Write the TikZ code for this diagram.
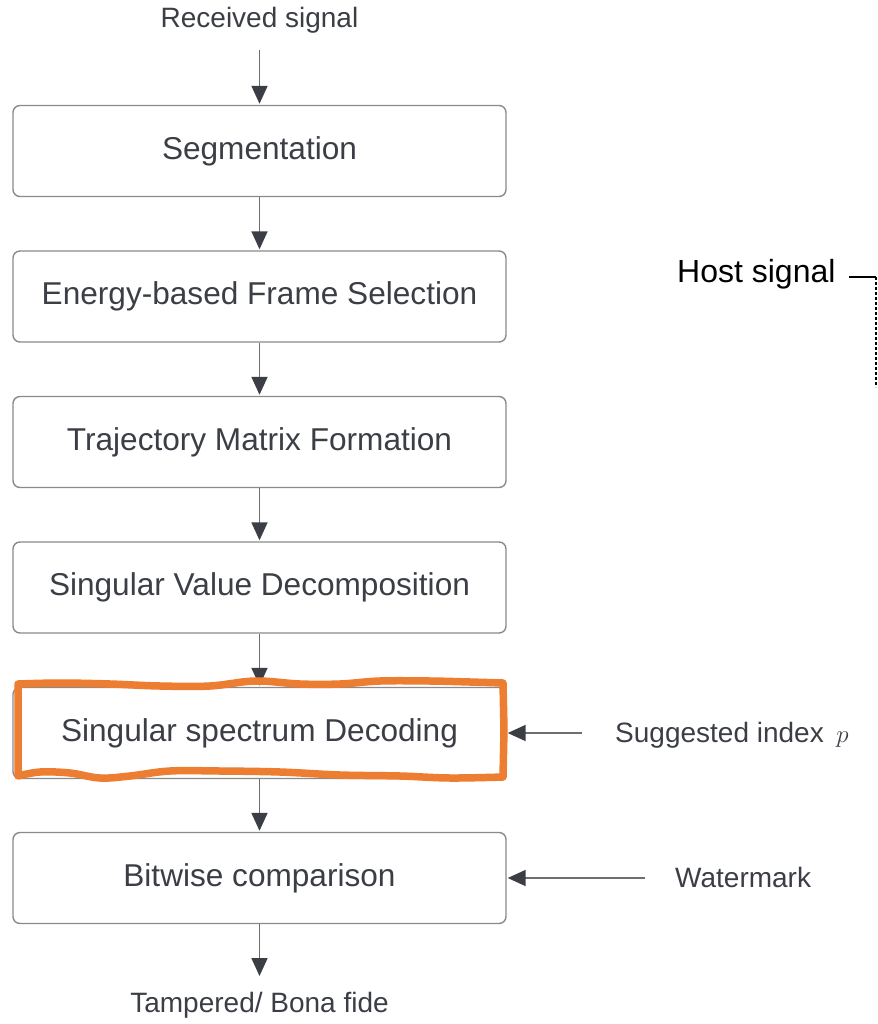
\documentclass[tikz,border=0pt]{standalone}
\usepackage{fontspec}
\setmainfont{Liberation Sans}
\usetikzlibrary{arrows.meta}
\definecolor{txt}{HTML}{3B3E45}
\definecolor{edge}{HTML}{8A8A8A}
\definecolor{arr}{HTML}{6E6E6E}
\definecolor{hl}{HTML}{ED7D31}
\tikzset{
  stage/.style={draw=edge, line width=1.4pt, rounded corners=7pt, minimum width=493pt, minimum height=91pt, text=txt, font=\fontsize{31.6}{37}\selectfont, inner sep=0pt},
  lbl/.style={text=txt, font=\fontsize{28}{33}\selectfont, inner sep=0pt},
  flow/.style={draw=arr, line width=1.8pt, -{Triangle[length=18pt,width=16pt,color=txt]}, shorten >=1pt}
}
\begin{document}
\begin{tikzpicture}[x=1pt,y=-1pt]
\useasboundingbox (0,0) rectangle (877,1024);
\node[lbl] (rx) at (259.5,20) {Received signal};
\coordinate (rxs) at (259.5,50);
\node[stage] (s1) at (259.5,151) {Segmentation};
\node[stage] (s2) at (259.5,296.5) {Energy-based Frame Selection};
\node[stage] (s3) at (259.5,442) {Trajectory Matrix Formation};
\node[stage] (s4) at (259.5,587.5) {Singular Value Decomposition};
\node[stage] (s5) at (259.5,733) {Singular spectrum Decoding};
\node[stage] (s6) at (259.5,878) {Bitwise comparison};
\node[lbl] (out) at (259.5,1005) {Tampered/ Bona fide};
\coordinate (oute) at (259.5,977);
\node[lbl, anchor=west] (sug) at (615,735) {Suggested index \,{\fontsize{34}{38}\selectfont$p$}};
\coordinate (sugs) at (582,733);
\node[lbl, anchor=west] (wm) at (675,877) {Watermark};
\coordinate (wms) at (645,878);
\node[anchor=west, inner sep=0pt, font=\fontsize{32}{38}\selectfont] (host) at (677,274) {Host signal};
\coordinate (h1) at (849,277);
\coordinate (h2) at (876,277);
\coordinate (h3) at (876,387);
\draw[flow] (rxs) -- (s1);
\draw[flow] (s1) -- (s2);
\draw[flow] (s2) -- (s3);
\draw[flow] (s3) -- (s4);
\draw[flow] (s4) -- (s5);
\draw[flow] (s5) -- (s6);
\draw[flow] (s6) -- (oute);
\draw[flow] (sugs) -- (s5.east |- sugs);
\draw[flow] (wms) -- (s6.east |- wms);
\draw[black, line width=1.2pt] (h1) -- (h2);
\draw[black, line width=1.5pt, dash pattern=on 3pt off 2pt] (h2) -- (h3);
\draw[hl, line width=7.5pt, line join=round, line cap=round]
  (18,684) -- plot[smooth, tension=0.6] coordinates {(18,684) (60,683) (110,684) (160,686) (210,686) (255,681) (300,684) (340,684) (380,681) (430,681) (470,682) (503,683)}
  -- (504,730) -- plot[smooth, tension=0.6] coordinates {(503,777) (450,778) (400,776) (340,775) (280,772) (220,771) (170,771) (130,776) (100,778) (70,773) (40,772) (18,776)}
  -- cycle;
\end{tikzpicture}
\end{document}
